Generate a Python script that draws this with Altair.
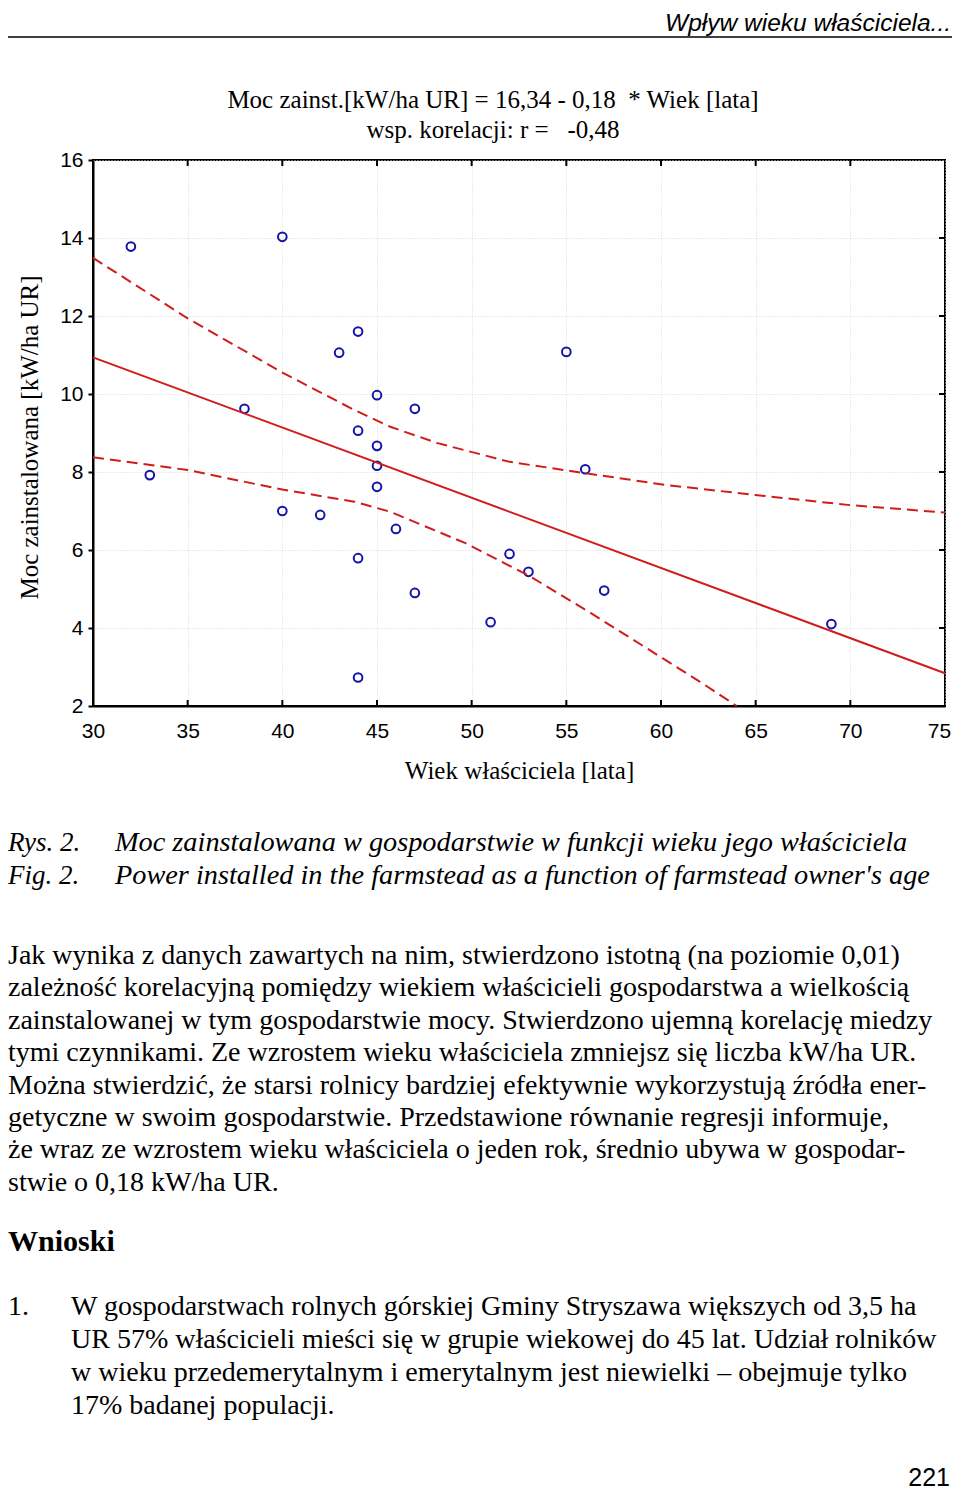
import altair as alt
import pandas as pd

# ---------------- data ----------------
age = [32, 33, 38, 40, 40, 42, 43, 44, 44, 44, 44, 45, 45, 45, 45, 46, 47, 47, 51, 52, 53, 55, 56, 57, 69]
power = [13.78, 7.92, 9.62, 14.03, 7.0, 6.9, 11.06, 11.6, 9.06, 5.79, 2.73, 9.97, 8.67, 8.16, 7.62,
         6.54, 9.62, 4.9, 4.15, 5.9, 5.44, 11.08, 8.07, 4.96, 4.10]

fit_age = [30, 75]
fit_power = [10.94, 2.84]

upper_age = [30, 35, 40, 43.8, 45.7, 48.2, 52, 56, 60.2, 65, 70, 75]
upper_power = [13.49, 11.94, 10.55, 9.59, 9.16, 8.74, 8.26, 7.97, 7.67, 7.41, 7.15, 6.96]
lower_age = [30, 35, 40, 43.8, 45.7, 49.7, 53.1, 56.3, 60.1, 62, 64]
lower_power = [8.38, 8.05, 7.55, 7.24, 6.98, 6.17, 5.32, 4.38, 3.22, 2.64, 2.0]

x_ticks = [30, 35, 40, 45, 50, 55, 60, 65, 70, 75]
y_ticks = [2, 4, 6, 8, 10, 12, 14, 16]
x_inner = [35, 40, 45, 50, 55, 60, 65, 70]
y_inner = [4, 6, 8, 10, 12, 14]

header_text = ["Wpływ wieku właściciela..."]
title_lines = ["Moc zainst.[kW/ha UR] = 16,34 - 0,18 \u00a0* Wiek [lata]",
               "wsp. korelacji: r = \u00a0\u00a0-0,48"]
y_title = "Moc zainstalowana [kW/ha UR]"
x_title = "Wiek właściciela [lata]"
caption_labels = ["Rys. 2.", "Fig. 2."]
caption_lines = ["Moc zainstalowana w gospodarstwie w funkcji wieku jego właściciela",
                 "Power installed in the farmstead as a function of farmstead owner's age"]
body_lines = [
    "Jak wynika z danych zawartych na nim, stwierdzono istotną (na poziomie 0,01)",
    "zależność korelacyjną pomiędzy wiekiem właścicieli gospodarstwa a wielkością",
    "zainstalowanej w tym gospodarstwie mocy. Stwierdzono ujemną korelację miedzy",
    "tymi czynnikami. Ze wzrostem wieku właściciela zmniejsz się liczba kW/ha UR.",
    "Można stwierdzić, że starsi rolnicy bardziej efektywnie wykorzystują źródła ener-",
    "getyczne w swoim gospodarstwie. Przedstawione równanie regresji informuje,",
    "że wraz ze wzrostem wieku właściciela o jeden rok, średnio ubywa w gospodar-",
    "stwie o 0,18 kW/ha UR.",
]
heading = ["Wnioski"]
list_number = ["1."]
list_lines = [
    "W gospodarstwach rolnych górskiej Gminy Stryszawa większych od 3,5 ha",
    "UR 57% właścicieli mieści się w grupie wiekowej do 45 lat. Udział rolników",
    "w wieku przedemerytalnym i emerytalnym jest niewielki – obejmuje tylko",
    "17% badanej populacji.",
]
page_number = ["221"]

# ---------------- tables ----------------
pts = pd.DataFrame({"age": age, "power": power})
fit = pd.DataFrame({"age": fit_age, "power": fit_power})
bands = pd.concat([
    pd.DataFrame({"age": upper_age, "power": upper_power, "band": "upper"}),
    pd.DataFrame({"age": lower_age, "power": lower_power, "band": "lower"}),
])
xt = pd.DataFrame({"age": x_inner})
yt = pd.DataFrame({"power": y_inner})

W, H = 852, 546
RED = "#d01c1c"
SERIF = "Liberation Serif"
SANS = "Liberation Sans"

x_axis = alt.Axis(values=x_ticks, title=x_title, ticks=False, tickSize=0, labelPadding=14,
                  titlePadding=17, grid=True, labelFlush=False,
                  labelOffset={"condition": {"test": "datum.value >= 75", "value": -6}, "value": 0})
y_axis = alt.Axis(values=y_ticks, title=y_title, ticks=True, tickSize=5, labelPadding=5,
                  titleX=-51, titleY=277, grid=True, labelFlush=False)
xs = alt.Scale(domain=[30, 75], nice=False, zero=False)
ys = alt.Scale(domain=[2, 16], nice=False, zero=False)
X = alt.X("age:Q", scale=xs, axis=x_axis)
Y = alt.Y("power:Q", scale=ys, axis=y_axis)

points = alt.Chart(pts).mark_point(shape="circle", filled=False, size=75, strokeWidth=2,
                                   color="#1414a8", opacity=1).encode(x=X, y=Y)
fit_line = alt.Chart(fit).mark_line(color=RED, strokeWidth=2).encode(x=X, y=Y)
band_lines = alt.Chart(bands).mark_line(color=RED, strokeWidth=2, strokeDash=[11, 6]).encode(
    x=X, y=Y, detail="band:N")
top_ticks = alt.Chart(xt).mark_rule(color="black", strokeWidth=2).encode(
    x=X, y=alt.value(0), y2=alt.value(6))
bottom_ticks = alt.Chart(xt).mark_rule(color="black", strokeWidth=2).encode(
    x=X, y=alt.value(H), y2=alt.value(H - 6))
right_ticks = alt.Chart(yt).mark_rule(color="black", strokeWidth=2).encode(
    y=Y, x=alt.value(W), x2=alt.value(W - 6))


def text_block(lines, x, y, size, font=SERIF, style="normal", weight="normal",
               align="left", lh=None):
    df = pd.DataFrame({"txt": ["\n".join(lines)]})
    kw = dict(align=align, baseline="alphabetic", font=font, fontSize=size,
              fontStyle=style, fontWeight=weight, color="black", lineBreak="\n")
    if lh is not None:
        kw["lineHeight"] = lh
    return alt.Chart(df).mark_text(**kw).encode(
        text="txt:N", x=alt.value(x), y=alt.value(y))


# page coordinates are relative to the plot origin at (93, 160)
header = text_block(header_text, 858, -129, 24.5, font=SANS, style="italic", align="right")
header_rule = alt.Chart(pd.DataFrame({"k": [0]})).mark_rule(color="black", strokeWidth=1.5).encode(
    x=alt.value(-85), x2=alt.value(859), y=alt.value(-123))
chart_title = text_block(title_lines, 400, -52, 25, align="center", lh=30)
cap_lab = text_block(caption_labels, -85, 691, 27, style="italic", lh=33)
cap_txt = text_block(caption_lines, 22, 691, 28.3, style="italic", lh=33)
body = text_block(body_lines, -85, 804, 28, lh=32.4)
head = text_block(heading, -85, 1091, 30, weight="bold")
num = text_block(list_number, -85, 1155, 28)
lst = text_block(list_lines, -22, 1155, 28, lh=33)
pnum = text_block(page_number, 857, 1326, 25, font=SANS, align="right")

chart = alt.layer(
    points, band_lines, fit_line, top_ticks, bottom_ticks, right_ticks,
    header, header_rule, chart_title, cap_lab, cap_txt, body, head, num, lst, pnum,
).properties(
    width=W, height=H,
    autosize=alt.AutoSizeParams(type="none"),
    padding={"left": 85, "top": 152, "right": 7, "bottom": 786},
).configure_view(
    stroke="black", strokeWidth=2
).configure_axis(
    domainColor="black", domainWidth=2, tickColor="black", tickWidth=2,
    labelFont=SANS, labelFontSize=21, labelColor="black",
    titleFont=SERIF, titleFontSize=25, titleFontWeight="normal", titleColor="black",
    gridColor="#d6d6d6", gridDash=[1, 2], gridWidth=1,
)

chart.save("out.html", embed_options={"renderer": "svg", "actions": False})
